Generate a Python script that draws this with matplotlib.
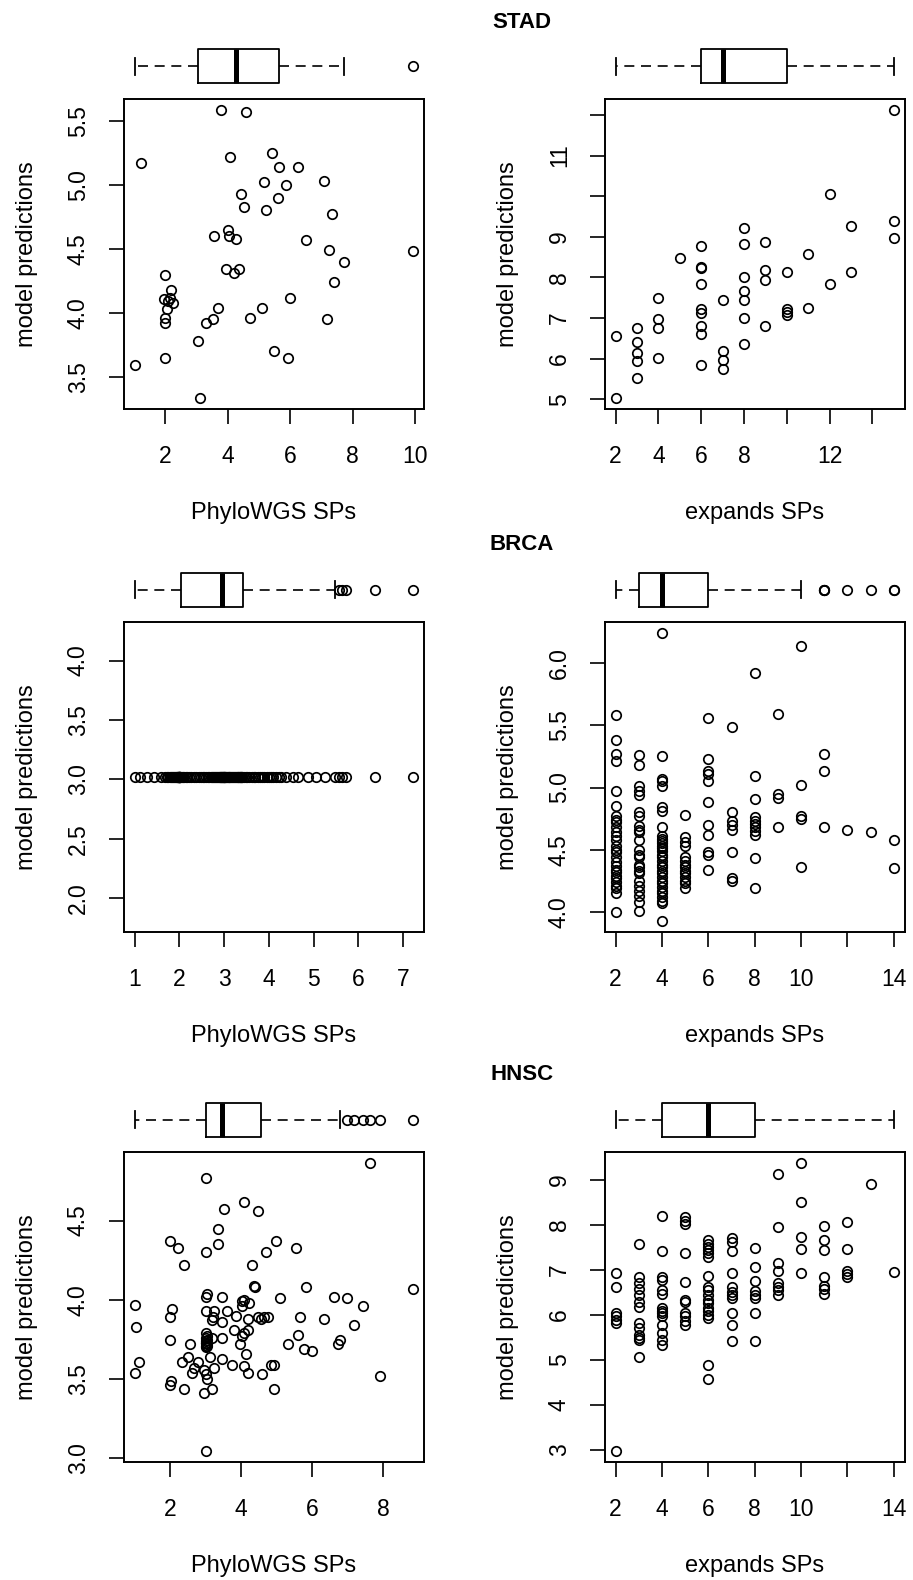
"""
Model predictions vs. PhyloWGS / expands subpopulation counts for STAD, BRCA, HNSC,
each scatter with a horizontal boxplot of the x values on top (R base-graphics look).
"""

import math
import numpy as np
import matplotlib.pyplot as plt

plt.rcParams["font.family"] = ["Liberation Sans", "DejaVu Sans"]

W, H = 913, 1580

# ---------------- STAD ----------------
stad_phylo = [3.78, 4.59, 1.24, 4.09, 5.42, 5.63, 6.25, 5.16, 5.88, 7.08,
              4.42, 5.62, 4.54, 5.22, 7.35, 3.58, 4.02, 4.04, 4.28, 6.51,
              7.25, 9.92, 7.72, 1.99, 3.96, 4.35, 4.22, 7.40, 2.19, 1.97,
              2.17, 2.26, 2.11, 2.07, 6.00, 3.70, 5.10, 1.99, 1.99, 3.54,
              3.32, 4.73, 7.19, 3.07, 5.48, 5.94, 2.00, 1.03, 3.13]
stad_phylo_pred = [5.58, 5.565, 5.17, 5.22, 5.25, 5.14, 5.14, 5.02, 5.00, 5.03,
                   4.93, 4.90, 4.83, 4.80, 4.77, 4.60, 4.65, 4.60, 4.58, 4.57,
                   4.49, 4.48, 4.40, 4.30, 4.34, 4.34, 4.31, 4.24, 4.18, 4.11,
                   4.12, 4.08, 4.09, 4.03, 4.12, 4.04, 4.04, 3.96, 3.92, 3.95,
                   3.92, 3.96, 3.95, 3.78, 3.70, 3.65, 3.65, 3.59, 3.34]

stad_exp_levels = [2, 3, 4, 5, 6, 7, 8, 9, 10, 11, 12, 13, 15]
stad_exp_pred = [
    [6.56, 5.04],
    [6.76, 6.41, 6.14, 5.94, 5.52],
    [7.49, 6.97, 6.76, 6.01],
    [8.47],
    [8.76, 8.26, 8.24, 7.83, 7.21, 7.13, 6.81, 6.61, 5.83],
    [7.45, 6.18, 5.96, 5.74],
    [9.21, 8.82, 8.02, 7.66, 7.45, 7.01, 6.36],
    [8.86, 8.19, 7.93, 6.81],
    [8.14, 7.23, 7.15, 7.08],
    [8.57, 7.25],
    [10.05, 7.83],
    [9.26, 8.14],
    [12.11, 9.40, 8.96],
]

# ---------------- BRCA ----------------
brca_phylo = [1.00, 1.13, 1.27, 1.44, 1.59, 1.68, 1.72, 1.75, 1.78, 1.81,
              1.84, 1.86, 1.88, 1.90, 1.92, 1.94, 1.95, 1.96, 1.97, 1.98,
              1.99, 2.00, 2.00, 2.00, 2.00, 2.00, 2.01, 2.01, 2.02, 2.02,
              2.05, 2.08, 2.10, 2.14, 2.18, 2.22, 2.27, 2.32, 2.38, 2.43,
              2.48, 2.52, 2.56, 2.60, 2.64, 2.67, 2.70, 2.73, 2.76, 2.78,
              2.80, 2.82, 2.84, 2.86, 2.88, 2.90, 2.91, 2.92, 2.94, 2.95,
              2.96, 2.97, 2.98, 2.99, 3.00, 3.00, 3.01, 3.02, 3.04, 3.06,
              3.08, 3.10, 3.12, 3.14, 3.16, 3.18, 3.20, 3.22, 3.24, 3.26,
              3.28, 3.30, 3.32, 3.34, 3.35, 3.36, 3.37, 3.38, 3.40, 3.41,
              3.44, 3.48, 3.52, 3.55, 3.62, 3.66, 3.70, 3.75, 3.80, 3.85,
              3.90, 3.95, 4.00, 4.05, 4.10, 4.16, 4.22, 4.27, 4.38, 4.53,
              4.66, 4.88, 5.05, 5.25, 5.47, 5.56, 5.64, 5.72, 6.37, 7.22]
brca_phylo_pred = 3.02  # the model returns one constant value for BRCA

brca_exp_levels = [2, 3, 4, 5, 6, 7, 8, 9, 10, 11, 12, 13, 14]
brca_exp_pred = [
    [5.58, 5.38, 5.27, 5.21, 4.97, 4.85, 4.77, 4.74, 4.72, 4.68, 4.64, 4.61, 4.58, 4.53,
     4.50, 4.48, 4.44, 4.40, 4.37, 4.34, 4.32, 4.29, 4.27, 4.24, 4.21, 4.19, 4.15, 4.00],
    [5.26, 5.18, 5.01, 4.97, 4.94, 4.80, 4.77, 4.69, 4.66, 4.64, 4.58, 4.50, 4.46, 4.44,
     4.38, 4.36, 4.33, 4.31, 4.25, 4.21, 4.17, 4.13, 4.08, 4.01],
    [6.24, 5.25, 5.07, 5.05, 5.01, 4.84, 4.81, 4.68, 4.61, 4.59, 4.57, 4.55, 4.53, 4.51,
     4.49, 4.46, 4.44, 4.41, 4.38, 4.36, 4.33, 4.31, 4.28, 4.25, 4.23, 4.20, 4.17, 4.15,
     4.12, 4.09, 4.07, 3.93],
    [4.78, 4.60, 4.56, 4.53, 4.44, 4.41, 4.38, 4.36, 4.33, 4.31, 4.28, 4.25, 4.23, 4.19],
    [5.56, 5.23, 5.13, 5.11, 5.05, 4.88, 4.70, 4.62, 4.48, 4.46, 4.34],
    [5.49, 4.80, 4.73, 4.70, 4.66, 4.48, 4.27, 4.25],
    [5.92, 5.09, 4.91, 4.76, 4.73, 4.71, 4.68, 4.65, 4.62, 4.43, 4.19],
    [5.59, 4.95, 4.92, 4.68],
    [6.14, 5.02, 4.77, 4.75, 4.36],
    [5.27, 5.13, 4.68],
    [4.66],
    [4.64],
    [4.58, 4.35],
]

# ---------------- HNSC ----------------
hnsc_phylo = [7.61, 3.01, 4.07, 3.52, 4.48, 3.34, 2.00, 2.23, 3.34, 4.99,
              5.54, 3.01, 4.70, 2.40, 4.30, 4.37, 4.39, 5.82, 8.83, 6.60,
              6.98, 3.04, 3.01, 3.46, 5.09, 4.03, 4.08, 4.21, 1.00, 2.05,
              7.44, 3.01, 3.24, 3.61, 4.01, 2.00, 3.21, 3.84, 4.18, 4.48,
              4.55, 4.64, 4.76, 5.65, 6.32, 1.05, 3.17, 3.47, 7.16, 4.20,
              3.01, 3.80, 4.08, 4.03, 5.59, 3.01, 3.01, 3.01, 3.05, 3.17,
              3.47, 2.00, 2.57, 3.97, 5.31, 6.77, 6.71, 5.77, 5.99, 1.11,
              2.50, 3.12, 3.47, 4.13, 2.33, 2.79, 3.75, 4.08, 4.85, 4.92,
              1.00, 2.68, 2.96, 3.24, 2.62, 3.01, 4.19, 4.58, 7.90, 3.05,
              2.03, 2.00, 2.40, 3.19, 4.91, 2.96, 3.01, 3.01, 3.03, 3.00,
              3.04, 3.02, 3.05]
hnsc_phylo_pred = [4.86, 4.77, 4.62, 4.57, 4.56, 4.45, 4.37, 4.33, 4.35, 4.37,
                   4.33, 4.30, 4.30, 4.22, 4.22, 4.09, 4.08, 4.08, 4.07, 4.02,
                   4.01, 4.04, 4.02, 4.02, 4.01, 3.99, 4.00, 3.98, 3.97, 3.94,
                   3.96, 3.93, 3.93, 3.93, 3.96, 3.89, 3.89, 3.90, 3.88, 3.89,
                   3.88, 3.89, 3.89, 3.89, 3.88, 3.83, 3.87, 3.86, 3.84, 3.81,
                   3.79, 3.81, 3.79, 3.77, 3.78, 3.76, 3.73, 3.71, 3.75, 3.76,
                   3.76, 3.75, 3.72, 3.72, 3.72, 3.75, 3.72, 3.69, 3.68, 3.61,
                   3.64, 3.64, 3.63, 3.66, 3.61, 3.61, 3.59, 3.58, 3.59, 3.59,
                   3.54, 3.57, 3.56, 3.57, 3.54, 3.53, 3.54, 3.53, 3.52, 3.50,
                   3.49, 3.46, 3.44, 3.44, 3.44, 3.41, 3.05, 3.74, 3.72, 3.70,
                   3.77, 3.73, 3.71]

hnsc_exp_levels = [2, 3, 4, 5, 6, 7, 8, 9, 10, 11, 12, 13, 14]
hnsc_exp_pred = [
    [6.92, 6.62, 6.03, 5.96, 5.89, 5.81, 2.98],
    [7.58, 6.84, 6.70, 6.58, 6.44, 6.29, 6.18, 5.81, 5.70, 5.55, 5.48, 5.44, 5.06],
    [8.20, 7.42, 6.83, 6.77, 6.55, 6.47, 6.14, 6.07, 6.03, 5.96, 5.77, 5.59, 5.44, 5.33],
    [8.17, 8.09, 8.02, 7.36, 6.73, 6.33, 6.29, 6.03, 5.96, 5.85, 5.77],
    [7.67, 7.58, 7.51, 7.43, 7.36, 7.28, 6.87, 6.62, 6.55, 6.44, 6.33, 6.25, 6.14, 6.07,
     6.00, 5.92, 4.89, 4.56],
    [7.71, 7.62, 7.42, 6.92, 6.62, 6.51, 6.44, 6.36, 6.03, 5.77, 5.42],
    [7.49, 7.05, 6.75, 6.53, 6.44, 6.36, 6.03, 5.41],
    [9.13, 7.95, 7.15, 6.97, 6.70, 6.62, 6.55, 6.44],
    [9.36, 8.51, 7.73, 7.45, 6.92],
    [7.98, 7.65, 7.43, 6.84, 6.64, 6.56, 6.46],
    [8.07, 7.45, 6.97, 6.90, 6.84],
    [8.90],
    [6.95],
]


def flatten(levels, groups):
    xs, ys = [], []
    for lv, g in zip(levels, groups):
        xs += [lv] * len(g)
        ys += g
    return xs, ys


def r_lim(v):
    # R default axis range: data range plus 4 % on each side
    lo, hi = float(min(v)), float(max(v))
    if hi == lo:
        lo, hi = lo * 0.6, hi * 1.4
    pad = 0.04 * (hi - lo)
    return lo - pad, hi + pad


def r_box_stats(v):
    # Tukey hinges as in R's boxplot.stats / fivenum
    x = np.sort(np.asarray(v, dtype=float))
    n = len(x)
    n4 = math.floor((n + 3) / 2) / 2
    d = [1, n4, (n + 1) / 2, n + 1 - n4, n]
    q = [0.5 * (x[math.floor(k) - 1] + x[math.ceil(k) - 1]) for k in d]
    iqr = q[3] - q[1]
    lo_f, hi_f = q[1] - 1.5 * iqr, q[3] + 1.5 * iqr
    inside = x[(x >= lo_f) & (x <= hi_f)]
    return dict(med=q[2], q1=q[1], q3=q[3], whislo=inside.min(), whishi=inside.max(),
                fliers=x[(x < lo_f) | (x > hi_f)])


def px_axes(fig, left, top, width, height):
    return fig.add_axes([left / W, 1 - (top + height) / H, width / W, height / H])


def panel(fig, left, top, x, y, xticks, xlabels, yticks, ylabels, xlabel):
    pw, ph = 300.5, 310
    ax = px_axes(fig, left, top, pw, ph)
    bx = px_axes(fig, left, top - 57.5, pw, 50)

    ax.plot(x, y, "o", mfc="none", mec="black", ms=6.8, mew=1.25, ls="none")
    xl = r_lim(x)
    ax.set_xlim(xl)
    ax.set_ylim(r_lim(y))
    ax.set_xticks(xticks)
    ax.set_xticklabels(xlabels)
    ax.set_yticks(yticks)
    ax.set_yticklabels(ylabels, rotation=90, va="center")
    ax.tick_params(direction="out", length=10.8, width=1.2, labelsize=16.5, colors="black")
    ax.tick_params(axis="x", pad=15)
    ax.tick_params(axis="y", pad=13.5)
    for s in ax.spines.values():
        s.set_linewidth(1.4)

    ax.set_xlabel(xlabel, fontsize=17)
    ax.xaxis.set_label_coords(0.5, -104 / ph)
    ax.xaxis.label.set_va("center")
    ax.set_ylabel("model predictions", fontsize=17)
    ax.yaxis.set_label_coords(-97 / pw, 0.5)
    ax.yaxis.label.set_va("center")

    st = r_box_stats(x)
    bx.bxp([st], positions=[1], widths=0.68, capwidths=0.34, orientation="horizontal",
           showfliers=True,
           boxprops=dict(color="black", lw=1.3),
           medianprops=dict(color="black", lw=3.6, solid_capstyle="butt"),
           whiskerprops=dict(color="black", lw=1.2, linestyle=(0, (6, 4))),
           capprops=dict(color="black", lw=1.3),
           flierprops=dict(marker="o", mfc="none", mec="black", ms=6.8, mew=1.25))
    bx.set_xlim(xl)
    bx.set_ylim(0.5, 1.5)
    bx.axis("off")
    return ax


fig = plt.figure(figsize=(W / 100, H / 100), dpi=100)

lefts = [123.5, 604.5]
tops = [99, 622, 1152]
names = ["STAD", "BRCA", "HNSC"]

sx, sy = flatten(stad_exp_levels, stad_exp_pred)
bx_, by_ = flatten(brca_exp_levels, brca_exp_pred)
hx, hy = flatten(hnsc_exp_levels, hnsc_exp_pred)

# STAD
panel(fig, lefts[0], tops[0], stad_phylo, stad_phylo_pred,
      [2, 4, 6, 8, 10], ["2", "4", "6", "8", "10"],
      [3.5, 4.0, 4.5, 5.0, 5.5], ["3.5", "4.0", "4.5", "5.0", "5.5"], "PhyloWGS SPs")
panel(fig, lefts[1], tops[0], sx, sy,
      [2, 4, 6, 8, 10, 12, 14], ["2", "4", "6", "8", "", "12", ""],
      [5, 6, 7, 8, 9, 10, 11, 12], ["5", "6", "7", "8", "9", "", "11", ""], "expands SPs")

# BRCA
panel(fig, lefts[0], tops[1], brca_phylo, [brca_phylo_pred] * len(brca_phylo),
      [1, 2, 3, 4, 5, 6, 7], ["1", "2", "3", "4", "5", "6", "7"],
      [2.0, 2.5, 3.0, 3.5, 4.0], ["2.0", "2.5", "3.0", "3.5", "4.0"], "PhyloWGS SPs")
panel(fig, lefts[1], tops[1], bx_, by_,
      [2, 4, 6, 8, 10, 12, 14], ["2", "4", "6", "8", "10", "", "14"],
      [4.0, 4.5, 5.0, 5.5, 6.0], ["4.0", "4.5", "5.0", "5.5", "6.0"], "expands SPs")

# HNSC
panel(fig, lefts[0], tops[2], hnsc_phylo, hnsc_phylo_pred,
      [2, 4, 6, 8], ["2", "4", "6", "8"],
      [3.0, 3.5, 4.0, 4.5], ["3.0", "3.5", "4.0", "4.5"], "PhyloWGS SPs")
panel(fig, lefts[1], tops[2], hx, hy,
      [2, 4, 6, 8, 10, 12, 14], ["2", "4", "6", "8", "10", "", "14"],
      [3, 4, 5, 6, 7, 8, 9], ["3", "4", "5", "6", "7", "8", "9"], "expands SPs")

for name, top in zip(names, tops):
    fig.text(522 / W, 1 - (top - 77) / H, name, ha="center", va="center",
             fontsize=16, fontweight="bold")

fig.savefig("out.png", dpi=100)
